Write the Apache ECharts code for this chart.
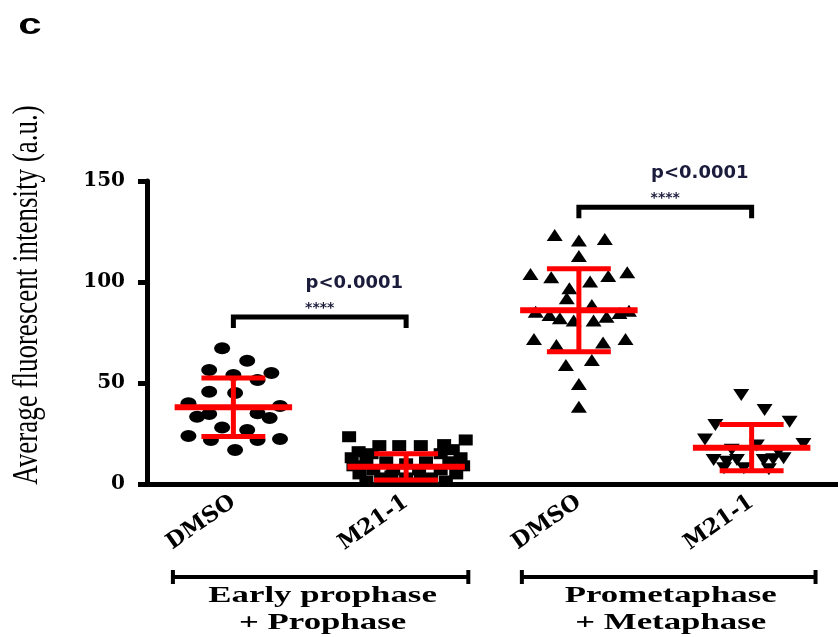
<!DOCTYPE html>
<html>
<head>
<meta charset="utf-8">
<script src="https://cdn.jsdelivr.net/npm/echarts@6/dist/echarts.min.js"></script>
<style>html,body{margin:0;padding:0;background:#fff;}#chart{width:838px;height:637px;}</style>
</head>
<body>
<div id="chart"></div>
<script>
// ---- data ----
const categories = ['DMSO', 'M21-1', 'DMSO', 'M21-1'];
const yMin = 0, yMax = 150, yInterval = 50;

// Early prophase + Prophase, DMSO (circles)
const earlyDmsoValues = [67.2, 61, 56.4, 55, 54, 51.5, 45.7, 45, 40, 38.6, 33.3, 34.6, 35, 32.7, 28, 26.7, 23.8, 21.8, 21.8, 22.3, 16.8];
const earlyDmsoJitter = [-0.065, 0.08, -0.14, 0.22, 0, 0.14, -0.14, 0.01, -0.26, 0.27, -0.21, -0.14, 0.14, 0.21, -0.065, 0.08, -0.26, -0.13, 0.14, 0.27, 0.01];

// Early prophase + Prophase, M21-1 (squares)
const earlyM21Values = [23.4, 21.8, 19, 19, 19, 19.5, 16, 17, 15, 15, 13, 13, 11, 11, 11, 11, 9, 9, 7, 7, 7, 7, 5, 5, 3, 3, 3, 1.5, 1.5, 10, 4, 2];
const earlyM21Jitter = [-0.33, 0.345, -0.155, -0.04, 0.085, 0.22, -0.275, 0.27, -0.2, 0.2, -0.315, 0.315, -0.23, -0.115, 0.115, 0.25, -0.305, 0.33, -0.19, -0.075, 0.075, 0.2, -0.27, 0.29, -0.145, 0, 0.145, -0.23, 0.23, 0, -0.085, 0.085];

// Prometaphase + Metaphase, DMSO (triangles)
const lateDmsoValues = [123.3, 120.5, 121.3, 112.9, 104, 102.3, 103, 104.8, 100.2, 96.9, 91.9, 88.6, 85.3, 83.7, 82, 81, 81, 82.8, 84.6, 85.8, 71.8, 68.8, 70, 71.8, 58.9, 61.4, 49.5, 38.3];
const lateDmsoJitter = [-0.14, 0, 0.15, 0, -0.28, -0.16, 0.17, 0.28, 0.065, -0.055, -0.07, 0.075, -0.25, -0.17, -0.11, -0.03, 0.085, 0.16, 0.235, 0.29, -0.26, -0.13, 0.14, 0.27, -0.075, 0.075, 0, 0];

// Prometaphase + Metaphase, M21-1 (inverted triangles)
const lateM21Values = [44, 36.6, 29.2, 30.8, 22, 19.8, 11.9, 11, 11.9, 11.9, 12.2, 12.7, 7.8, 7.8, 7.3, 17, 19, 16];
const lateM21Jitter = [-0.06, 0.075, -0.21, 0.22, -0.27, 0.3, -0.22, -0.145, -0.085, 0.07, 0.125, 0.185, -0.16, -0.045, 0.1, -0.115, 0.03, 0.155];

// mean and SD bars
const means = [38, 8.5, 86, 18];
const sds = [14.5, 6.5, 20.5, 11.5];

// significance annotations
const sigPairs = [[0, 1], [2, 3]];
const sigLevels = [82.7, 137];
const sigPText = ['p<0.0001', 'p<0.0001'];
const sigStars = ['****', '****'];

// group labels below the axis
const groupLabels = [['Early prophase', '+ Prophase'], ['Prometaphase', '+ Metaphase']];
const groupSpans = [[-0.35, 1.36], [1.67, 3.37]];

const yTitle = 'Average fluorescent intensity (a.u.)';
const panelLabel = 'c';

// ---- chart ----
const chart = echarts.init(document.getElementById('chart'), null, {renderer: 'canvas'});

function pts(g, vals, jit) {
  return vals.map((v, i) => [g + jit[i], v]);
}

const serifB = 'bold 24px "Liberation Serif"';
const dot = {color: '#000', opacity: 1};

const option = {
  animation: false,
  backgroundColor: '#ffffff',
  grid: {left: 147, right: -5, top: 181, bottom: 153, containLabel: false},
  xAxis: [
    {
      type: 'category', data: categories, boundaryGap: true,
      axisLine: {onZero: false, lineStyle: {color: '#000', width: 5}},
      axisTick: {alignWithLabel: true, length: 8, lineStyle: {color: '#000', width: 5}},
      axisLabel: {rotate: 35, margin: 16, color: '#000', fontFamily: 'DejaVu Serif', fontWeight: 'bold', fontSize: 22},
      splitLine: {show: false}
    },
    {type: 'value', min: -0.5, max: 3.5, show: false}
  ],
  yAxis: {
    type: 'value', min: yMin, max: yMax, interval: yInterval,
    axisLine: {show: true, onZero: false, lineStyle: {color: '#000', width: 5}},
    axisTick: {show: true, length: 9, lineStyle: {color: '#000', width: 5}},
    axisLabel: {margin: 22, color: '#000', fontFamily: 'DejaVu Serif', fontWeight: 'bold', fontSize: 20},
    splitLine: {show: false}
  },
  graphic: [
    {
      type: 'text', x: 30, y: 26, scaleX: 1.4,
      style: {text: panelLabel, font: 'bold 30px "Liberation Sans"', fill: '#000', align: 'center', verticalAlign: 'middle'}
    },
    {
      type: 'text', x: 28, y: 295, rotation: Math.PI / 2, scaleY: 1.3,
      style: {text: yTitle, font: '27px "Liberation Serif"', fill: '#000', align: 'center', verticalAlign: 'middle'}
    }
  ],
  series: [
    {type: 'scatter', xAxisIndex: 1, symbol: 'circle', symbolSize: [16, 12], itemStyle: dot, data: pts(0, earlyDmsoValues, earlyDmsoJitter), z: 2},
    {type: 'scatter', xAxisIndex: 1, symbol: 'rect', symbolSize: [14, 11], itemStyle: dot, data: pts(1, earlyM21Values, earlyM21Jitter), z: 2},
    {type: 'scatter', xAxisIndex: 1, symbol: 'triangle', symbolSize: [16, 12], itemStyle: dot, data: pts(2, lateDmsoValues, lateDmsoJitter), z: 2},
    {type: 'scatter', xAxisIndex: 1, symbol: 'triangle', symbolRotate: 180, symbolSize: [16, 12], itemStyle: dot, data: pts(3, lateM21Values, lateM21Jitter), z: 2},
    {
      type: 'custom', xAxisIndex: 1, z: 5, clip: false,
      data: means.map((m, i) => [i, m, sds[i]]),
      renderItem: function (params, api) {
        const x = api.value(0), m = api.value(1), s = api.value(2);
        const c = api.coord([x, m]);
        const hi = api.coord([x, m + s]);
        const lo = api.coord([x, m - s]);
        const w = api.size([1, 0])[0];
        const red = '#ff0000';
        return {
          type: 'group',
          children: [
            {type: 'line', shape: {x1: c[0], y1: hi[1], x2: c[0], y2: lo[1]}, style: {stroke: red, lineWidth: 5}},
            {type: 'line', shape: {x1: c[0] - 0.185 * w, y1: hi[1], x2: c[0] + 0.185 * w, y2: hi[1]}, style: {stroke: red, lineWidth: 5}},
            {type: 'line', shape: {x1: c[0] - 0.185 * w, y1: lo[1], x2: c[0] + 0.185 * w, y2: lo[1]}, style: {stroke: red, lineWidth: 5}},
            {type: 'line', shape: {x1: c[0] - 0.34 * w, y1: c[1], x2: c[0] + 0.34 * w, y2: c[1]}, style: {stroke: red, lineWidth: 6}}
          ]
        };
      }
    },
    {
      type: 'custom', xAxisIndex: 1, z: 6, clip: false,
      data: sigPairs.map((p, i) => [p[0], p[1], sigLevels[i]]),
      renderItem: function (params, api) {
        const a = api.coord([api.value(0), api.value(2)]);
        const b = api.coord([api.value(1), api.value(2)]);
        const w = api.size([1, 0])[0];
        const mid = (a[0] + b[0]) / 2;
        const i = params.dataIndex;
        return {
          type: 'group',
          children: [
            {type: 'polyline', shape: {points: [[a[0], a[1] + 11], [a[0], a[1]], [b[0], b[1]], [b[0], b[1] + 11]]},
             style: {stroke: '#000', lineWidth: 5, fill: null, lineJoin: 'miter'}},
            {type: 'text', x: mid, y: a[1] - 9,
             style: {text: sigStars[i], font: 'bold 14px "DejaVu Sans"', fill: '#1b1b3b', align: 'center', verticalAlign: 'middle'}},
            {type: 'text', x: mid + 0.2 * w, y: a[1] - 34,
             style: {text: sigPText[i], font: 'bold 18px "DejaVu Sans"', fill: '#1b1b3b', align: 'center', verticalAlign: 'middle'}}
          ]
        };
      }
    },
    {
      type: 'custom', xAxisIndex: 1, z: 6, clip: false,
      data: groupSpans.map(s => [s[0], s[1], 0]),
      renderItem: function (params, api) {
        const a = api.coord([api.value(0), 0]);
        const b = api.coord([api.value(1), 0]);
        const y = a[1] + 93;
        const mid = (a[0] + b[0]) / 2;
        const lab = groupLabels[params.dataIndex];
        return {
          type: 'group',
          children: [
            {type: 'line', shape: {x1: a[0], y1: y, x2: b[0], y2: y}, style: {stroke: '#000', lineWidth: 4}},
            {type: 'line', shape: {x1: a[0], y1: y - 7, x2: a[0], y2: y + 7}, style: {stroke: '#000', lineWidth: 4}},
            {type: 'line', shape: {x1: b[0], y1: y - 7, x2: b[0], y2: y + 7}, style: {stroke: '#000', lineWidth: 4}},
            {type: 'text', x: mid + 2, y: y + 19, scaleX: 1.45,
             style: {text: lab[0], font: serifB, fill: '#000', align: 'center', verticalAlign: 'middle'}},
            {type: 'text', x: mid + 2, y: y + 46, scaleX: 1.45,
             style: {text: lab[1], font: serifB, fill: '#000', align: 'center', verticalAlign: 'middle'}}
          ]
        };
      }
    }
  ]
};
chart.setOption(option);
</script>
</body>
</html>
